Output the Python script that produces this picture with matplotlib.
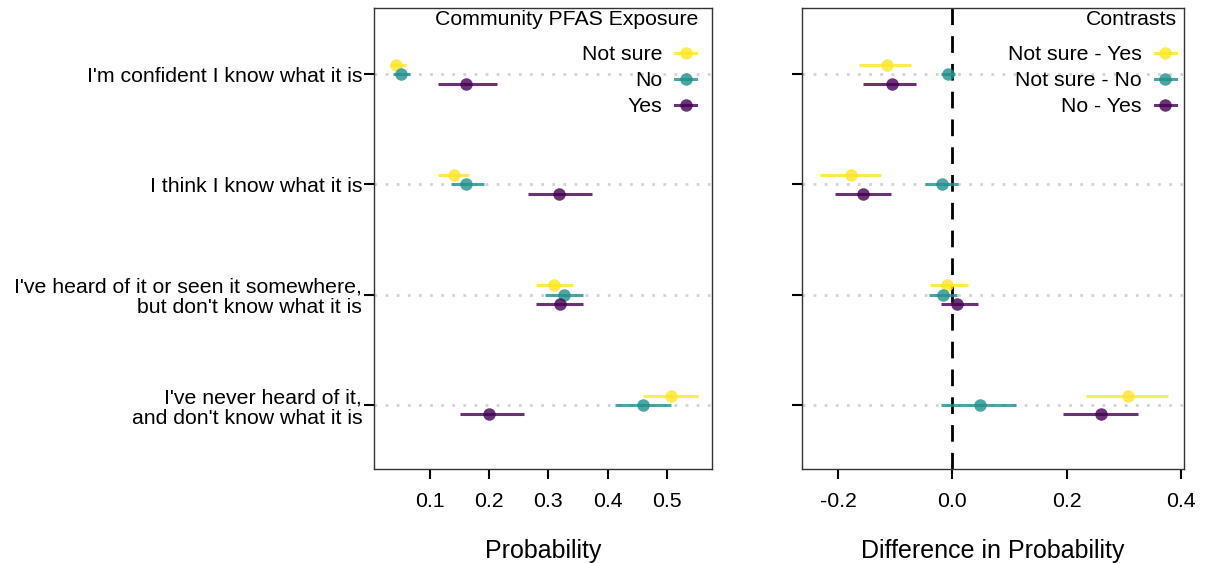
import matplotlib
matplotlib.use("Agg")
import matplotlib.pyplot as plt
from matplotlib.lines import Line2D
import numpy as np

plt.rcParams['font.family'] = ['Liberation Sans', 'DejaVu Sans']

categories = ["I'm confident I know what it is",
              "I think I know what it is",
              "I've heard of it or seen it somewhere,\nbut don't know what it is",
              "I've never heard of it,\nand don't know what it is"]

# left panel: predicted probability by community exposure
notsure_p = [0.042, 0.140, 0.310, 0.507]
notsure_lo = [0.032, 0.114, 0.279, 0.460]
notsure_hi = [0.060, 0.166, 0.341, 0.552]
no_p = [0.051, 0.161, 0.327, 0.459]
no_lo = [0.038, 0.135, 0.294, 0.412]
no_hi = [0.066, 0.191, 0.359, 0.507]
yes_p = [0.160, 0.318, 0.320, 0.200]
yes_lo = [0.114, 0.265, 0.279, 0.151]
yes_hi = [0.213, 0.374, 0.358, 0.259]

# right panel: contrasts
nsy_d = [-0.114, -0.178, -0.009, 0.307]
nsy_lo = [-0.163, -0.232, -0.039, 0.233]
nsy_hi = [-0.073, -0.125, 0.027, 0.377]
nsn_d = [-0.008, -0.019, -0.016, 0.048]
nsn_lo = [-0.020, -0.048, -0.041, -0.020]
nsn_hi = [0.005, 0.010, 0.008, 0.111]
noy_d = [-0.106, -0.156, 0.008, 0.260]
noy_lo = [-0.156, -0.205, -0.020, 0.193]
noy_hi = [-0.064, -0.108, 0.044, 0.325]

cols = ['#FDE725', '#21908C', '#440154']
alpha = 0.8
dodge = [-0.086, 0.0, 0.086]
ypos = np.arange(1, len(categories) + 1)

fig = plt.figure(figsize=(12.12, 5.63), dpi=100)
ax1 = fig.add_axes([0.3086, 0.167, 0.2789, 0.8188])
ax2 = fig.add_axes([0.6617, 0.167, 0.3152, 0.8188])


def draw(ax, series, labels, title, leg_x, title_x):
    for y in ypos:
        ax.axhline(y, color='#d3d3d3', lw=2, ls=(0, (1, 3)), zorder=0)
    for (est, lo, hi), c, off in zip(series, cols, dodge):
        yy = ypos + off
        ax.hlines(yy, lo, hi, color=c, lw=2.2, alpha=alpha, zorder=2)
        ax.plot(est, yy, 'o', color=c, ms=9, alpha=alpha, mew=0, zorder=3)
    handles = [Line2D([], [], color=c, marker='o', ms=9, lw=2.2, alpha=alpha, mew=0)
               for c in cols]
    ax.text(title_x, 0.976, title, transform=ax.transAxes, ha='right', va='center',
            fontsize=15.3)
    ax.legend(handles, labels, loc='upper right', bbox_to_anchor=(leg_x, 0.919),
              markerfirst=False, frameon=False, fontsize=15.3,
              handlelength=1.0, handletextpad=0.6, labelspacing=0.33,
              borderaxespad=0, borderpad=0)
    ax.set_ylim(4.58, 0.4)
    ax.set_yticks(ypos)
    for s in ax.spines.values():
        s.set_color('#333333')
        s.set_linewidth(1)
    ax.tick_params(axis='both', length=7.5, width=1.5, color='black', labelsize=15.3)
    ax.tick_params(axis='y', pad=1)
    ax.tick_params(axis='x', pad=9)


draw(ax1, [(notsure_p, notsure_lo, notsure_hi), (no_p, no_lo, no_hi), (yes_p, yes_lo, yes_hi)],
     ['Not sure', 'No', 'Yes'], 'Community PFAS Exposure', 0.953, 0.9586)
ax1.set_xlim(0.0054, 0.5765)
ax1.set_xticks([0.1, 0.2, 0.3, 0.4, 0.5])
ax1.set_xticklabels(['0.1', '0.2', '0.3', '0.4', '0.5'])
ax1.set_yticklabels(categories, linespacing=1.1)
ax1.set_xlabel('Probability', fontsize=18, labelpad=20)

draw(ax2, [(nsy_d, nsy_lo, nsy_hi), (nsn_d, nsn_lo, nsn_hi), (noy_d, noy_lo, noy_hi)],
     ['Not sure - Yes', 'Not sure - No', 'No - Yes'], 'Contrasts', 0.979, 0.9817)
ax2.axvline(0, color='black', lw=2, ls=(0, (6, 4)), zorder=1)
ax2.set_xlim(-0.263, 0.405)
ax2.set_xticks([-0.2, 0.0, 0.2, 0.4])
ax2.set_xticklabels(['-0.2', '0.0', '0.2', '0.4'])
ax2.set_yticklabels([])
ax2.set_xlabel('Difference in Probability', fontsize=18, labelpad=20)

fig.savefig('out.png', dpi=100)
